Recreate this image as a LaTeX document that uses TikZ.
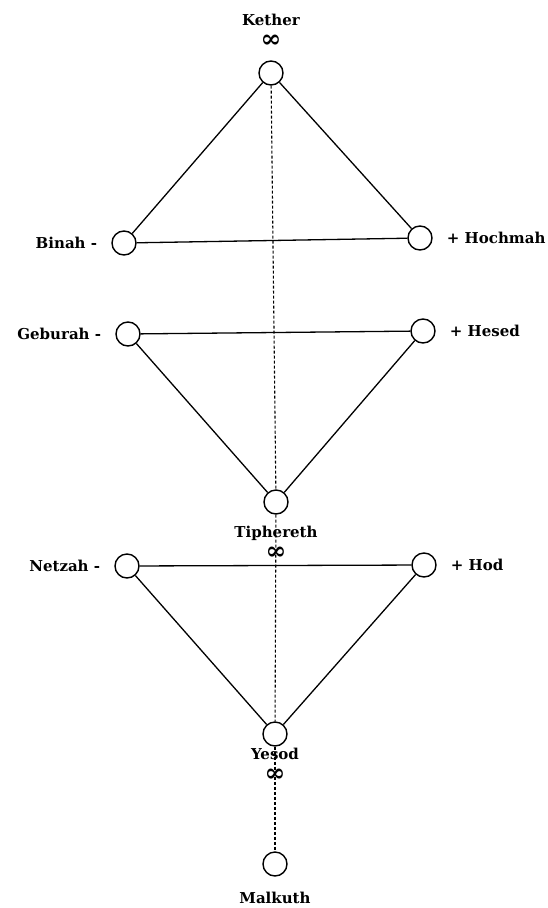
\documentclass[tikz,border=0pt]{standalone}
\usepackage{fontspec}
\setmainfont{DejaVu Serif}
\usetikzlibrary{positioning}

\begin{document}
\begin{tikzpicture}[x=1pt,y=-1pt,
    font=\bfseries\fontsize{15}{17}\selectfont,
    sephira/.style={draw,circle,minimum size=24pt,inner sep=0pt,line width=1.4pt},
    path/.style={line width=1.3pt},
    pillar/.style={line width=1.1pt,dash pattern=on 3pt off 2pt},
    lbl/.style={inner sep=1pt},
    inf/.style={inner sep=0pt,font=\bfseries\fontsize{25}{25}\selectfont}]
  \useasboundingbox (0,0) rectangle (548,908);
  % the ten circles
  \foreach \n/\x/\y in {kether/271/73, binah/124/243, hochmah/420/238,
                        geburah/128/334, hesed/423/331, tiphereth/276/502,
                        netzah/127/566, hod/424/565, yesod/275/734,
                        malkuth/275/864}{
     \node[sephira] (\n) at (\x,\y) {};}
  % names
  \node[inf] (kinf) [above=13pt of kether] {∞};
  \node[lbl] [above=8pt of kinf] {Kether};
  \node[lbl] [left=13pt of binah] {Binah -};
  \node[lbl] [right=13pt of hochmah] {+ Hochmah};
  \node[lbl] [left=13pt of geburah] {Geburah -};
  \node[lbl] [right=13pt of hesed] {+ Hesed};
  \node[lbl] (tlbl) [below=10pt of tiphereth] {Tiphereth};
  \node[inf] [below=5pt of tlbl] {∞};
  \node[lbl] [left=13pt of netzah] {Netzah -};
  \node[lbl] [right=13pt of hod] {+ Hod};
  \node[lbl] (ylbl) [below=0pt of yesod] {Yesod};
  \node[inf] [below=8pt of ylbl] {∞};
  \node[lbl] [below=14pt of malkuth] {Malkuth};
  % triangles
  \draw[path] (kether) -- (binah) -- (hochmah) -- (kether);
  \draw[path] (geburah) -- (hesed) -- (tiphereth) -- (geburah);
  \draw[path] (netzah) -- (hod) -- (yesod) -- (netzah);
  % middle pillar
  \draw[pillar] (kether) -- (tiphereth);
  \draw[pillar] (tiphereth) -- (yesod);
  \draw[pillar] (yesod) -- (malkuth);
\end{tikzpicture}
\end{document}
